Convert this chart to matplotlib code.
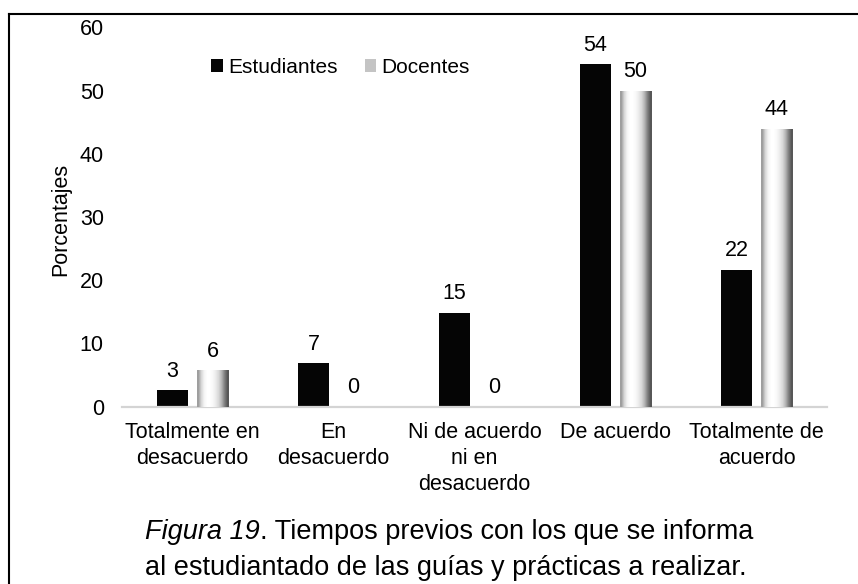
import matplotlib.pyplot as plt
import numpy as np
from matplotlib.lines import Line2D
from matplotlib.patches import Patch

plt.rcParams['font.family'] = ['Liberation Sans', 'DejaVu Sans']

# Data
categories = ["Totalmente en\ndesacuerdo", "En\ndesacuerdo", "Ni de acuerdo\nni en\ndesacuerdo",
              "De acuerdo", "Totalmente de\nacuerdo"]
estudiantes = [2.6, 6.9, 14.9, 54.2, 21.7]
docentes = [5.8, 0, 0, 50.0, 44.0]
series_names = ["Estudiantes", "Docentes"]
caption_italic = "Figura 19"
caption_rest = ". Tiempos previos con los que se informa"
caption_line2 = "al estudiantado de las guías y prácticas a realizar."

fig = plt.figure(figsize=(8.58, 5.84), dpi=100)
ax = fig.add_axes([0.142, 0.3036, 0.822, 0.6494])

x = np.arange(len(categories))
w = 0.22
off = 0.142

bars_e = ax.bar(x - off, estudiantes, w, color="#050505", zorder=2)
bars_d = ax.bar(x + off, docentes, w, color="#d8d8d8", zorder=2)

# cylinder-like shading on the Docentes bars
shade = np.array([[0.62, 0.84, 0.96, 1.0, 1.0, 0.97, 0.92, 0.84, 0.70, 0.50, 0.34]])
for b in bars_d:
    if b.get_height() <= 0:
        continue
    x0, y0 = b.get_x(), b.get_y()
    im = ax.imshow(shade, cmap="gray", vmin=0, vmax=1, aspect="auto", interpolation="bilinear",
                   extent=(x0, x0 + b.get_width(), y0, y0 + b.get_height()), zorder=3)
    im.set_clip_path(b)

ax.set_xlim(-0.5, len(categories) - 0.5)
ax.set_ylim(0, 60)

# value labels
for bars, vals in ((bars_e, estudiantes), (bars_d, docentes)):
    for b, v in zip(bars, vals):
        ax.annotate(f"{v:.0f}", (b.get_x() + b.get_width() / 2, v), xytext=(0, 13.5),
                    textcoords="offset points", ha="center", va="center", fontsize=15.5)

ax.set_xticks(x)
ax.set_xticklabels(categories, fontsize=15.5, linespacing=1.3)
ax.set_yticks(range(0, 61, 10))
ax.tick_params(axis="y", length=0, pad=13, labelsize=15.5)
ax.tick_params(axis="x", length=0, pad=11)

for s in ("top", "right", "left"):
    ax.spines[s].set_visible(False)
ax.spines["bottom"].set_color("#d4d4d4")
ax.spines["bottom"].set_linewidth(1.6)

ax.set_ylabel("Porcentajes", fontsize=15.5, va="center")
ax.yaxis.set_label_coords(-0.0865, 0.495)

handles = [Patch(facecolor="#050505"), Patch(facecolor="#c4c4c4")]
fig.legend(handles, series_names, loc="center", bbox_to_anchor=(0.397, 0.885), ncol=2,
           frameon=False, fontsize=15, handlelength=0.55, handleheight=0.55,
           handletextpad=0.25, columnspacing=1.3)

# caption
cy1 = 1 - 532 / 584
t1 = fig.text(145 / 858, cy1, caption_italic, fontsize=19.5, style="italic",
              ha="left", va="center")
fig.canvas.draw()
bb = t1.get_window_extent()
fig.text(bb.x1 / 858, cy1, caption_rest, fontsize=19.5, ha="left", va="center")
fig.text(446 / 858, 1 - 568 / 584, caption_line2, fontsize=19.5, ha="center", va="center")

# outer frame (left and top edges visible)
fy = 1 - 13.5 / 584
fx = 8.5 / 858
fig.add_artist(Line2D([fx, fx], [-0.01, fy], transform=fig.transFigure, color="black", lw=1.5))
fig.add_artist(Line2D([fx, 1.01], [fy, fy], transform=fig.transFigure, color="black", lw=1.5))

fig.savefig("out.png", dpi=100)
